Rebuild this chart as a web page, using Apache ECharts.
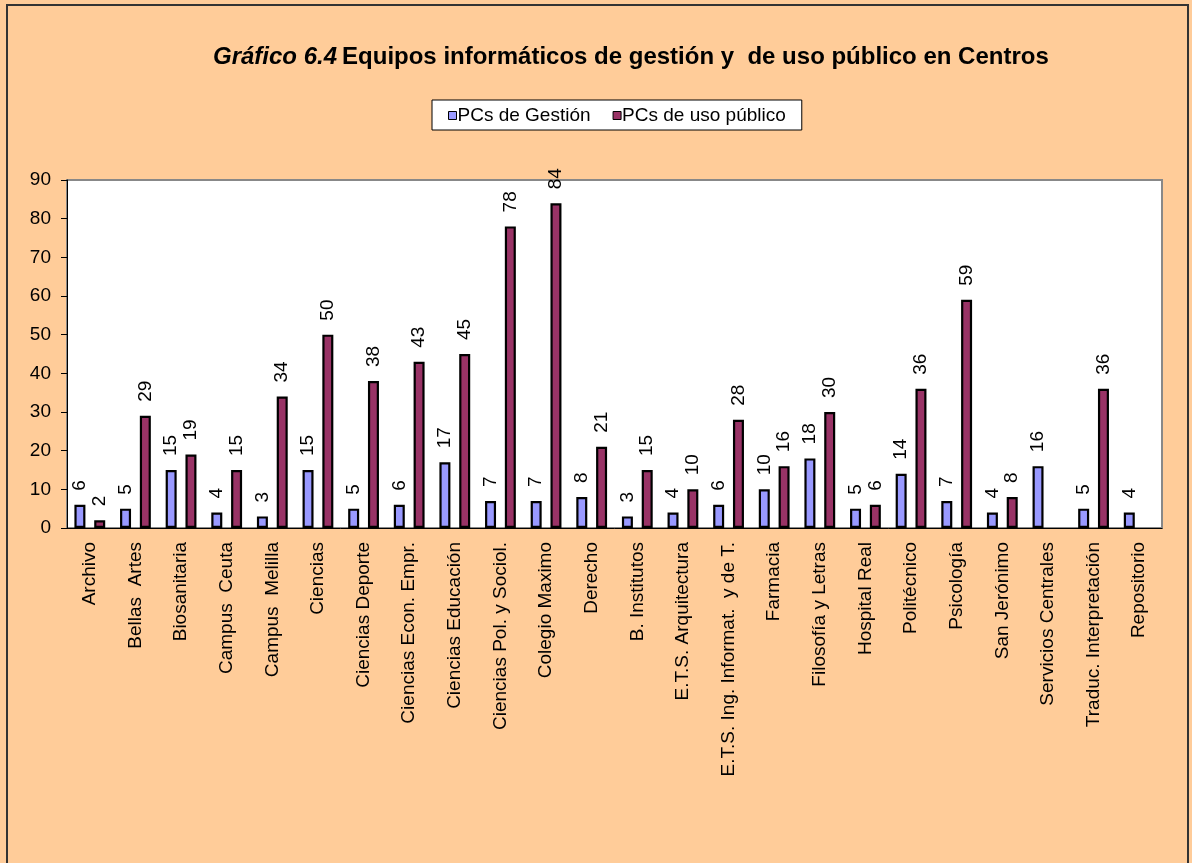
<!DOCTYPE html>
<html>
<head>
<meta charset="utf-8">
<script src="https://cdn.jsdelivr.net/npm/echarts@6/dist/echarts.min.js"></script>
<style>
  html, body { margin: 0; padding: 0; background: #FFCC99; }
  #chart { width: 1192px; height: 863px; }
</style>
</head>
<body>
<div id="chart"></div>
<script>
var categories = ['Archivo', 'Bellas  Artes', 'Biosanitaria', 'Campus  Ceuta', 'Campus  Melilla', 'Ciencias',
    'Ciencias Deporte', 'Ciencias Econ. Empr.', 'Ciencias Educación', 'Ciencias Pol. y Sociol.',
    'Colegio Maximo', 'Derecho', 'B. Institutos', 'E.T.S. Arquitectura', 'E.T.S. Ing. Informat.  y de T.',
    'Farmacia', 'Filosofía y Letras', 'Hospital Real', 'Politécnico', 'Psicología', 'San Jerónimo',
    'Servicios Centrales', 'Traduc. Interpretación', 'Repositorio'];
var gestion = [6, 5, 15, 4, 3, 15, 5, 6, 17, 7, 7, 8, 3, 4, 6, 10, 18, 5, 14, 7, 4, 16, 5, 4];
var usoPublico = [2, 29, 19, 15, 34, 50, 38, 43, 45, 78, 84, 21, 15, 10, 28, 16, 30, 6, 36, 59, 8, null, 36, null];
var yTicks = [0, 10, 20, 30, 40, 50, 60, 70, 80, 90];

var font = 'Liberation Sans, Arial, sans-serif';

var barLabel = {
    show: true,
    position: 'top',
    rotate: 90,
    align: 'left',
    verticalAlign: 'middle',
    distance: 14,
    color: '#000',
    fontSize: 19,
    fontFamily: font
};

var chart = echarts.init(document.querySelector('#chart'));
chart.setOption({
    backgroundColor: '#FFCC99',
    graphic: [{
        type: 'rect',
        shape: { x: 7, y: 5, width: 1181, height: 870 },
        style: { fill: 'none', stroke: '#333', lineWidth: 2 },
        silent: true
    }],
    title: {
        text: '{i|Gráfico 6.4} {b|Equipos informáticos de gestión y  de uso público en Centros}',
        left: 208,
        top: 40,
        textStyle: {
            rich: {
                i: { fontStyle: 'italic', fontWeight: 'bold', fontSize: 24, color: '#000', fontFamily: font },
                b: { fontWeight: 'bold', fontSize: 24, color: '#000', fontFamily: font }
            }
        }
    },
    legend: {
        top: 100,
        left: 432,
        backgroundColor: '#fff',
        borderColor: '#000',
        borderWidth: 1,
        padding: [6, 16, 5, 16],
        itemWidth: 8,
        itemHeight: 8,
        itemGap: 22,
        icon: 'rect',
        itemStyle: { borderColor: '#000', borderWidth: 1 },
        textStyle: { fontSize: 19, fontFamily: font, color: '#000', padding: [0, 0, 0, -4] },
        data: ['PCs de Gestión', 'PCs de uso público']
    },
    grid: {
        left: 67,
        right: 30,
        top: 180,
        bottom: 335,
        show: true,
        backgroundColor: '#fff',
        borderColor: '#888',
        borderWidth: 2
    },
    xAxis: {
        type: 'category',
        data: categories,
        axisLine: { lineStyle: { color: '#000', width: 1 } },
        axisTick: { lineStyle: { color: '#000' }, length: 6 },
        axisLabel: {
            rotate: 90,
            interval: 0,
            fontSize: 19,
            fontFamily: font,
            color: '#000',
            margin: 14
        }
    },
    yAxis: {
        type: 'value',
        min: yTicks[0],
        max: yTicks[yTicks.length - 1],
        interval: 10,
        splitLine: { show: false },
        axisLine: { show: true, lineStyle: { color: '#000', width: 1 } },
        axisTick: { show: true, length: 6, lineStyle: { color: '#000' } },
        axisLabel: { fontSize: 19, fontFamily: font, color: '#000', margin: 16 }
    },
    series: [{
        name: 'PCs de Gestión',
        type: 'bar',
        data: gestion,
        barWidth: 11,
        barGap: '80%',
        itemStyle: { color: '#9999FF', borderColor: '#000', borderWidth: 2.2 },
        label: barLabel
    }, {
        name: 'PCs de uso público',
        type: 'bar',
        data: usoPublico,
        barWidth: 11,
        itemStyle: { color: '#993366', borderColor: '#000', borderWidth: 2.2 },
        label: barLabel
    }]
});
</script>
</body>
</html>
